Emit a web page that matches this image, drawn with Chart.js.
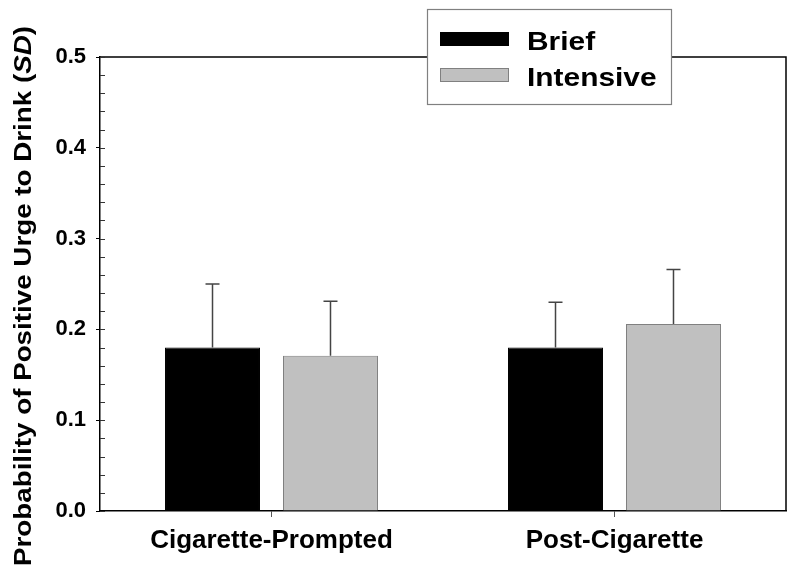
<!DOCTYPE html>
<html>
<head>
<meta charset="utf-8">
<script src="https://cdn.jsdelivr.net/npm/chart.js@4"></script>
<style>
  html, body { margin: 0; padding: 0; background: #fff; }
  #wrap { width: 800px; height: 570px; }
</style>
</head>
<body>
<div id="wrap"><canvas id="urgeChart" width="800" height="570"></canvas></div>
<script>
// ===================================
// Data
// ===================================
const categories = ["Cigarette-Prompted", "Post-Cigarette"];
const briefMeans = [0.18, 0.18];
const briefSD = [0.07, 0.05];
const intensiveMeans = [0.171, 0.206];
const intensiveSD = [0.06, 0.06];
const seriesLabels = ["Brief", "Intensive"];
const yMin = 0, yMax = 0.5, yStep = 0.1, yMinorStep = 0.02;

const FONT = "'Liberation Sans', Arial, sans-serif";

// ===================================
// Plugins
// ===================================
// upper-only SD whiskers
const errorBars = {
  id: "errorBars",
  afterDatasetsDraw(chart) {
    const ctx = chart.ctx;
    const y = chart.scales.y;
    const sds = [briefSD, intensiveSD];
    ctx.save();
    ctx.strokeStyle = "#444";
    ctx.lineWidth = 1.5;
    chart.data.datasets.forEach((ds, di) => {
      chart.getDatasetMeta(di).data.forEach((bar, i) => {
        const top = y.getPixelForValue(ds.data[i]);
        const end = y.getPixelForValue(ds.data[i] + sds[di][i]);
        ctx.beginPath();
        ctx.moveTo(bar.x, top);
        ctx.lineTo(bar.x, end);
        ctx.moveTo(bar.x - 7, end);
        ctx.lineTo(bar.x + 7, end);
        ctx.stroke();
      });
    });
    ctx.restore();
  },
};

// frame, inner minor ticks, y title and legend box
const decorations = {
  id: "decorations",
  afterDraw(chart) {
    const ctx = chart.ctx;
    const a = chart.chartArea;
    const y = chart.scales.y;
    ctx.save();

    // frame top + right
    ctx.strokeStyle = "#000";
    ctx.lineWidth = 1.5;
    ctx.beginPath();
    ctx.moveTo(a.left, a.top);
    ctx.lineTo(a.right, a.top);
    ctx.lineTo(a.right, a.bottom);
    ctx.stroke();

    // inner ticks every 0.02
    ctx.lineWidth = 1;
    ctx.strokeStyle = "#333";
    ctx.beginPath();
    for (let k = 0; k <= Math.round((yMax - yMin) / yMinorStep); k++) {
      const py = Math.round(y.getPixelForValue(yMin + k * yMinorStep)) + 0.5;
      ctx.moveTo(a.left, py);
      ctx.lineTo(a.left + 5, py);
    }
    ctx.stroke();

    // y axis title with italic SD
    const parts = [
      ["bold 23px " + FONT, "Probability of Positive Urge to Drink ("],
      ["italic bold 23px " + FONT, "SD"],
      ["bold 23px " + FONT, ")"],
    ];
    let total = 0;
    parts.forEach((p) => { ctx.font = p[0]; total += ctx.measureText(p[1]).width; });
    ctx.save();
    ctx.translate(31, 566);
    ctx.rotate(-Math.PI / 2);
    ctx.scale(540 / total, 1);
    ctx.fillStyle = "#000";
    ctx.textBaseline = "alphabetic";
    let x = 0;
    parts.forEach((p) => {
      ctx.font = p[0];
      ctx.fillText(p[1], x, 0);
      x += ctx.measureText(p[1]).width;
    });
    ctx.restore();

    // legend
    ctx.fillStyle = "#fff";
    ctx.fillRect(427, 9, 244, 95);
    ctx.strokeStyle = "#808080";
    ctx.lineWidth = 1.2;
    ctx.strokeRect(427.5, 9.5, 244, 95);
    const rows = [32, 68];
    chart.data.datasets.forEach((ds, i) => {
      ctx.fillStyle = ds.backgroundColor;
      ctx.fillRect(440, rows[i], 69, 14);
      ctx.strokeStyle = ds.borderColor;
      ctx.lineWidth = 1;
      ctx.strokeRect(440.5, rows[i] + 0.5, 68, 13);
      ctx.save();
      ctx.translate(527, rows[i] + 18);
      ctx.scale(1.15, 1);
      ctx.font = "bold 26px " + FONT;
      ctx.fillStyle = "#000";
      ctx.textBaseline = "alphabetic";
      ctx.fillText(ds.label, 0, 0);
      ctx.restore();
    });

    ctx.restore();
  },
};

// ===================================
// Chart
// ===================================
const ctx = document.getElementById("urgeChart").getContext("2d");
new Chart(ctx, {
  type: "bar",
  data: {
    labels: categories,
    datasets: [
      {
        label: seriesLabels[0],
        data: briefMeans,
        backgroundColor: "#000000",
        borderColor: "#000000",
        borderWidth: 1,
      },
      {
        label: seriesLabels[1],
        data: intensiveMeans,
        backgroundColor: "#c0c0c0",
        borderColor: "#808080",
        borderWidth: 1,
      },
    ],
  },
  options: {
    responsive: false,
    animation: false,
    devicePixelRatio: 1,
    layout: { padding: { left: 0, right: 14, top: 57, bottom: 0 } },
    datasets: {
      bar: { categoryPercentage: 0.688, barPercentage: 0.805 },
    },
    plugins: {
      legend: { display: false },
      tooltip: { enabled: false },
    },
    scales: {
      x: {
        afterFit: (scale) => { scale.height = 59; },
        grid: {
          offset: false,
          drawOnChartArea: false,
          drawTicks: true,
          tickLength: 6,
          tickColor: "#555",
        },
        border: { color: "#000", width: 1.5 },
        ticks: {
          color: "#000",
          padding: 8,
          font: { family: FONT, size: 26, weight: "bold" },
        },
      },
      y: {
        min: yMin,
        max: yMax,
        afterFit: (scale) => { scale.width = 100; },
        grid: {
          drawOnChartArea: false,
          drawTicks: true,
          tickLength: 4,
          tickColor: "#000",
        },
        border: { color: "#000", width: 1.5 },
        ticks: {
          stepSize: yStep,
          color: "#000",
          padding: 10,
          font: { family: FONT, size: 22, weight: "bold" },
          callback: (v) => v.toFixed(1),
        },
      },
    },
  },
  plugins: [errorBars, decorations],
});
</script>
</body>
</html>
